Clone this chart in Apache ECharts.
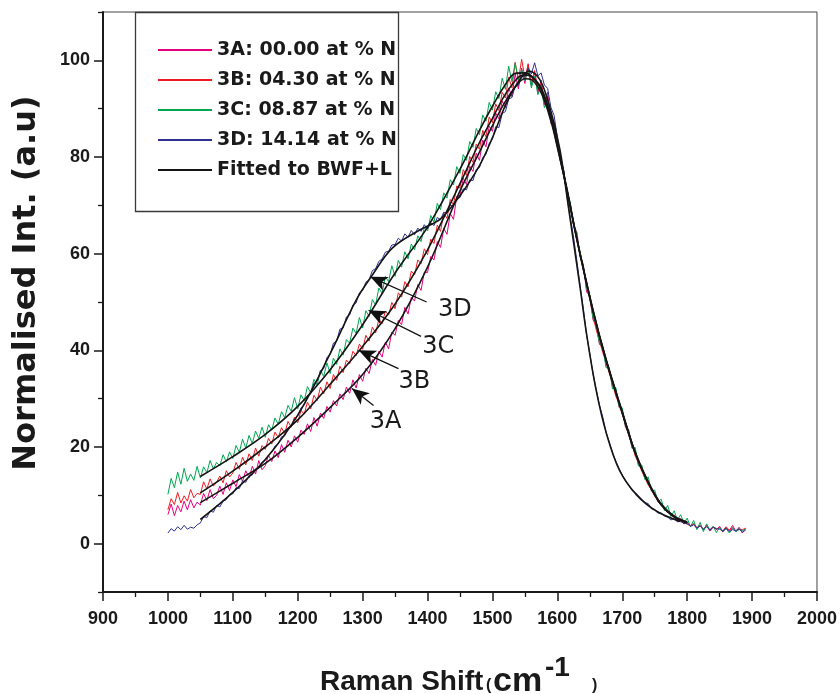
<!DOCTYPE html>
<html><head><meta charset="utf-8">
<script src="https://cdn.jsdelivr.net/npm/echarts@6/dist/echarts.min.js"></script>
<style>html,body{margin:0;padding:0;background:#fff}#chart{width:840px;height:694px}</style>
</head><body><div id="chart"></div>
<script>
// Raman shift sampling of the measured spectra (cm-1)
const shiftStart = 1000, shiftStep = 5;

const seriesNames = ['3A: 00.00 at % N', '3B: 04.30 at % N', '3C: 08.87 at % N', '3D: 14.14 at % N'];
const fitName = 'Fitted to BWF+L';

const intensity3A = [
  6.0, 8.2, 5.8, 7.9, 6.6, 8.8, 7.0, 9.1, 7.4, 8.6,
  8.0, 10.4, 8.9, 11.2, 9.3, 10.0, 11.9, 10.2, 12.6, 11.0,
  13.2, 11.8, 14.3, 12.9, 15.1, 13.6, 16.0, 14.4, 17.2, 15.3,
  16.1, 18.3, 17.0, 19.2, 17.8, 20.5, 18.9, 21.4, 20.0, 22.3,
  21.0, 23.5, 22.6, 24.8, 23.2, 26.1, 24.3, 27.0, 25.9, 28.4,
  27.2, 29.6, 28.5, 31.0, 29.8, 32.4, 31.1, 33.9, 32.2, 35.0,
  33.6, 36.3, 35.2, 38.1, 36.9, 39.8, 38.6, 41.7, 40.3, 43.8,
  43.1, 46.2, 45.3, 48.9, 47.5, 51.0, 50.2, 53.6, 52.4, 56.2,
  56.1, 59.4, 58.7, 62.5, 61.3, 65.2, 64.0, 68.3, 67.1, 71.9,
  72.0, 75.6, 74.3, 78.1, 77.0, 80.8, 79.3, 83.5, 82.1, 86.4,
  85.3, 89.1, 87.9, 91.6, 90.2, 94.3, 92.5, 97.2, 94.1, 98.4,
  95.2, 99.3, 94.8, 97.6, 93.2, 95.9, 90.8, 93.4, 86.9, 87.3,
  83.4, 79.0, 77.2, 72.1, 70.3, 65.8, 64.5, 59.6, 57.8, 52.1,
  51.2, 46.3, 45.0, 41.2, 40.6, 36.9, 36.1, 32.4, 32.0, 28.2,
  27.6, 24.1, 23.0, 19.8, 19.3, 16.2, 15.6, 13.4, 13.0, 10.9,
  10.4, 8.6, 8.4, 7.1, 6.9, 5.8, 5.9, 4.6, 5.2, 4.1,
  4.5, 3.6, 4.0, 3.1, 3.7, 2.8, 3.9, 2.6, 3.4, 2.9,
  3.6, 2.4, 3.3, 2.7, 3.8, 2.5, 3.4, 2.2, 3.1
];
const intensity3B = [
  7.0, 9.3, 8.1, 10.6, 8.4, 9.9, 8.8, 11.2, 9.5, 10.4,
  10.2, 12.8, 11.3, 13.4, 11.9, 12.7, 14.0, 12.6, 15.1, 13.8,
  14.6, 16.8, 15.4, 17.9, 16.3, 18.6, 17.2, 19.8, 18.1, 20.3,
  19.5, 21.8, 20.6, 23.1, 21.9, 24.0, 22.8, 25.3, 24.1, 26.2,
  25.0, 27.6, 26.8, 29.3, 27.9, 30.7, 29.6, 32.4, 31.0, 33.5,
  32.1, 35.0, 33.8, 36.7, 35.4, 38.0, 37.2, 39.8, 38.9, 41.3,
  40.2, 43.1, 41.9, 44.8, 43.6, 46.4, 45.5, 48.1, 47.3, 49.9,
  48.6, 51.9, 51.0, 54.2, 53.1, 56.4, 55.6, 58.7, 57.9, 61.0,
  59.8, 63.0, 62.1, 65.9, 64.6, 68.4, 67.3, 71.2, 70.1, 74.0,
  73.6, 77.4, 76.2, 80.1, 78.9, 82.7, 81.6, 85.5, 84.2, 88.3,
  87.1, 91.0, 89.6, 93.4, 92.2, 96.5, 94.3, 99.6, 95.8, 100.2,
  96.3, 99.1, 95.0, 97.9, 93.8, 95.2, 91.4, 92.6, 87.6, 86.8,
  82.9, 80.1, 76.5, 73.2, 69.4, 66.5, 63.1, 60.2, 56.8, 53.4,
  50.6, 47.1, 44.2, 42.0, 39.5, 37.6, 35.2, 33.1, 30.5, 29.0,
  26.8, 24.6, 22.4, 20.5, 18.1, 16.7, 15.0, 13.6, 12.1, 11.2,
  9.8, 8.9, 8.0, 7.4, 6.5, 6.1, 5.4, 5.0, 4.5, 4.4,
  4.0, 3.7, 4.2, 3.3, 3.8, 3.0, 3.6, 2.9, 3.5, 3.1,
  3.2, 2.7, 3.5, 2.8, 3.3, 2.6, 3.0, 2.9, 3.2
];
const intensity3C = [
  10.2, 13.5, 11.6, 14.8, 12.3, 15.6, 12.9, 14.4, 13.1, 16.0,
  13.6, 15.9, 14.7, 17.2, 15.5, 16.8, 16.1, 18.4, 16.9, 19.0,
  17.6, 20.3, 18.9, 21.6, 19.8, 22.4, 20.7, 23.3, 21.8, 24.1,
  22.0, 24.6, 23.5, 26.0, 24.7, 27.3, 26.1, 28.6, 27.4, 30.2,
  27.9, 30.8, 29.6, 32.5, 31.2, 34.0, 32.8, 35.9, 34.6, 37.4,
  35.2, 38.4, 37.1, 40.3, 39.0, 42.2, 41.5, 44.6, 43.5, 46.8,
  44.6, 48.2, 47.0, 50.5, 49.4, 52.9, 51.8, 55.3, 54.2, 57.5,
  55.3, 58.6, 57.2, 60.4, 58.9, 62.0, 60.8, 63.7, 62.5, 65.4,
  64.7, 67.9, 66.5, 70.4, 69.1, 72.6, 71.5, 75.3, 74.2, 78.0,
  76.6, 80.5, 79.3, 83.2, 82.0, 85.9, 84.6, 88.7, 87.4, 91.3,
  89.7, 93.5, 92.1, 96.3, 94.0, 98.8, 95.6, 99.4, 95.9, 98.1,
  95.8, 98.2, 94.3, 96.7, 92.9, 94.6, 90.2, 92.0, 87.1, 86.2,
  83.0, 79.8, 77.1, 72.5, 70.6, 65.9, 64.2, 59.3, 57.5, 52.8,
  51.4, 46.6, 45.5, 41.3, 40.8, 36.4, 36.5, 32.0, 32.3, 28.4,
  28.1, 24.2, 23.6, 19.7, 19.9, 16.1, 16.3, 13.2, 13.8, 10.9,
  11.1, 8.6, 9.2, 6.8, 7.9, 5.6, 6.8, 4.9, 6.0, 4.2,
  5.3, 3.5, 4.8, 2.9, 4.4, 2.5, 4.1, 2.8, 3.6, 2.3,
  3.4, 2.6, 3.1, 2.2, 3.3, 2.5, 2.9, 2.7, 3.0
];
const intensity3D = [
  2.2, 3.1, 2.6, 3.5, 2.9, 3.8, 3.0, 3.4, 3.2, 3.9,
  4.3, 5.6, 5.4, 6.8, 6.5, 7.9, 7.6, 8.8, 9.1, 10.2,
  10.3, 11.6, 11.4, 13.0, 12.7, 14.1, 14.2, 15.5, 15.6, 16.9,
  17.2, 18.3, 18.9, 20.2, 20.6, 22.1, 22.3, 23.9, 24.2, 25.8,
  26.4, 28.1, 28.7, 30.6, 31.0, 33.2, 33.6, 35.8, 36.2, 38.5,
  39.2, 41.5, 41.9, 44.4, 44.6, 46.9, 47.3, 49.4, 49.8, 51.9,
  52.4, 54.1, 54.6, 56.5, 56.9, 58.4, 58.9, 60.3, 60.5, 61.8,
  61.9, 63.2, 62.6, 64.1, 63.4, 64.8, 63.9, 65.3, 64.6, 66.0,
  65.1, 66.4, 65.8, 67.5, 67.0, 68.6, 68.4, 70.0, 69.9, 71.5,
  71.6, 73.4, 73.2, 75.3, 75.1, 77.4, 77.8, 79.9, 80.5, 82.8,
  83.7, 86.3, 86.1, 89.0, 89.4, 92.0, 92.3, 94.6, 94.8, 96.9,
  96.6, 98.4, 97.2, 99.5, 96.8, 97.4, 94.9, 94.2, 90.3, 88.6,
  84.0, 80.2, 76.9, 71.8, 67.5, 63.4, 58.6, 53.5, 48.7, 43.2,
  39.3, 35.1, 31.8, 28.6, 26.2, 23.1, 21.0, 18.9, 17.1, 15.6,
  14.2, 13.0, 12.1, 11.0, 10.6, 9.9, 9.2, 8.5, 8.3, 7.2,
  7.1, 6.3, 6.4, 5.7, 5.5, 4.9, 5.2, 4.5, 4.7, 4.1,
  4.3, 3.6, 3.9, 3.3, 3.7, 3.0, 3.5, 2.8, 3.4, 3.1,
  3.0, 2.6, 3.2, 2.5, 2.9, 2.7, 3.1, 2.4, 2.8
];

// BWF+L fitted curves: [Raman shift, intensity]
const fit3A = [[1050,8.5],[1100,12.5],[1150,16.6],[1200,22],[1250,28.2],[1300,35],[1350,44.5],[1400,57.2],[1450,73],[1480,81],[1500,86.5],[1520,91.5],[1540,95.3],[1550,96.2],[1560,96],[1575,93.3],[1590,87.5],[1600,82],[1615,73],[1630,63],[1655,48],[1675,38],[1700,27],[1720,18.7],[1740,12.6],[1760,8],[1780,5.5],[1800,4.3]];
const fit3B = [[1050,10.5],[1100,15],[1150,20],[1200,25.6],[1250,33],[1300,40.8],[1350,49.6],[1400,60.8],[1450,74.5],[1480,83],[1500,88],[1520,93],[1540,96.5],[1550,97],[1560,96.6],[1575,94],[1590,88],[1600,82.3],[1615,73],[1630,63],[1655,48.2],[1675,38],[1700,27.2],[1720,18.8],[1740,12.7],[1760,8.1],[1780,5.6],[1800,4.4]];
const fit3C = [[1050,13.9],[1100,18],[1150,22.6],[1200,28.4],[1250,36],[1300,45.3],[1350,56],[1400,65.5],[1450,77.5],[1480,85.5],[1500,90.5],[1520,95],[1535,97.3],[1550,97.4],[1560,96.8],[1575,94.3],[1590,88.6],[1600,82.6],[1615,73.3],[1630,63.2],[1655,48.3],[1675,38.2],[1700,27.3],[1720,18.9],[1740,12.8],[1760,8.2],[1780,5.7],[1800,4.5]];
const fit3D = [[1050,5],[1100,10.6],[1150,17.4],[1200,26.6],[1250,39.3],[1290,50.4],[1313,55.2],[1346,61.2],[1388,64.9],[1420,67.2],[1450,72],[1480,78.2],[1500,84],[1521,91],[1542,96],[1557,97.8],[1573,96],[1588,90.5],[1604,81.5],[1617,69.7],[1635,53],[1645,43.4],[1660,31.6],[1676,22.6],[1696,15.1],[1722,10.1],[1753,6.7],[1789,4.6]];

// y-axis tick values
const yLabelValues = [0, 20, 40, 60, 80, 100];
const yMinorValues = [-10, 10, 30, 50, 70, 90, 110];

// curve annotations: label, label position, arrow tail, arrow tip (data coords)
const annotLabels = ['3D', '3C', '3B', '3A'];
const annotLabelAt = [[1442, 48.3], [1416.6, 40.8], [1379.8, 33.6], [1335.3, 25.2]];
const annotTail = [[1398.6, 50.0], [1390, 42.9], [1355.2, 36.2], [1316.8, 28.6]];
const annotTip = [[1311.8, 55.2], [1309.2, 48.3], [1293.9, 40.0], [1283.6, 32.1]];

const colors = ['#e6007e', '#ed1c24', '#00a651', '#2e3192'];
const fitColor = '#151515';

const tickFont = {fontFamily: '"Liberation Sans", Arial, sans-serif', fontWeight: 'bold', fontSize: 18, color: '#1a1a1a'};

function spectrum(name, values, color) {
  return {
    name, type: 'line', symbol: 'none', showSymbol: false,
    data: values.map((v, i) => [shiftStart + i * shiftStep, v]),
    lineStyle: {color, width: 1}, itemStyle: {color}, z: 2
  };
}
function fitted(values) {
  return {
    name: fitName, type: 'line', symbol: 'none', showSymbol: false, smooth: 0.35,
    data: values, lineStyle: {color: fitColor, width: 1.6}, itemStyle: {color: fitColor}, z: 3
  };
}

const chart = echarts.init(document.getElementById('chart'), null, {renderer: 'canvas'});
chart.setOption({
  animation: false,
  backgroundColor: '#fff',
  grid: {left: 103, right: 23, top: 12, bottom: 102, show: true, borderColor: '#444', borderWidth: 1},
  legend: {
    orient: 'vertical', left: 153, top: 35, itemWidth: 54, itemHeight: 2, itemGap: 10,
    icon: 'rect', selectedMode: false,
    data: seriesNames.concat([fitName]),
    textStyle: {fontFamily: '"DejaVu Sans", sans-serif', fontWeight: 'bold', fontSize: 19, color: '#1a1a1a', lineHeight: 20, height: 20}
  },
  xAxis: {
    type: 'value', min: 900, max: 2000, interval: 100,
    axisLine: {onZero: false, lineStyle: {color: '#1a1a1a', width: 2}},
    axisTick: {length: 9, lineStyle: {color: '#1a1a1a', width: 1.5}},
    minorTick: {show: true, splitNumber: 2, length: 5, lineStyle: {color: '#1a1a1a', width: 1.3}},
    axisLabel: Object.assign({margin: 18, formatter: v => String(v)}, tickFont),
    splitLine: {show: false}, minorSplitLine: {show: false}
  },
  yAxis: [{
    type: 'value', min: -10, max: 110, position: 'left',
    axisLine: {onZero: false, lineStyle: {color: '#1a1a1a', width: 2}},
    axisTick: {customValues: yLabelValues, length: 9, lineStyle: {color: '#1a1a1a', width: 1.5}},
    axisLabel: Object.assign({customValues: yLabelValues, margin: 13}, tickFont),
    splitLine: {show: false}
  }, {
    type: 'value', min: -10, max: 110, position: 'left',
    axisLine: {show: false},
    axisTick: {customValues: yMinorValues, length: 5, lineStyle: {color: '#1a1a1a', width: 1.3}},
    axisLabel: {show: false},
    splitLine: {show: false}
  }],
  series: [
    spectrum(seriesNames[0], intensity3A, colors[0]),
    spectrum(seriesNames[1], intensity3B, colors[1]),
    spectrum(seriesNames[2], intensity3C, colors[2]),
    spectrum(seriesNames[3], intensity3D, colors[3]),
    fitted(fit3A), fitted(fit3B), fitted(fit3C), fitted(fit3D),
    {
      name: 'annotations', type: 'line', data: [], z: 4,
      markLine: {
        silent: true, symbol: ['none', 'arrow'], symbolSize: [11, 17], animation: false,
        label: {show: false},
        lineStyle: {color: '#111', width: 1.3, type: 'solid'},
        emphasis: {disabled: true},
        data: annotTail.map((t, i) => [{coord: t}, {coord: annotTip[i]}])
      },
      markPoint: {
        silent: true, symbol: 'rect', symbolSize: 1, animation: false,
        itemStyle: {color: 'rgba(0,0,0,0)'},
        label: {show: true, position: 'inside', formatter: p => p.name, color: '#1a1a1a',
                fontFamily: '"DejaVu Sans", sans-serif', fontSize: 24},
        data: annotLabels.map((n, i) => ({name: n, coord: annotLabelAt[i]}))
      }
    }
  ],
  graphic: [
    {type: 'rect', shape: {x: 135.5, y: 12.5, width: 263, height: 199}, style: {fill: 'none', stroke: '#3a3a3a', lineWidth: 1.3}, z: 10},
    {type: 'text', x: 27, y: 283, rotation: Math.PI / 2, style: {text: 'Normalised Int. (a.u)', font: 'bold 32px "DejaVu Sans", sans-serif', fill: '#1a1a1a', align: 'center', verticalAlign: 'middle'}},
    {type: 'text', x: 320, y: 682, style: {text: 'Raman Shift', font: 'bold 28px "Liberation Sans", Arial, sans-serif', fill: '#1a1a1a', align: 'left', verticalAlign: 'middle'}},
    {type: 'text', x: 486, y: 686, style: {text: '(', font: 'bold 16px "Liberation Sans", Arial, sans-serif', fill: '#1a1a1a', align: 'left', verticalAlign: 'middle'}},
    {type: 'text', x: 493, y: 682, style: {text: 'cm', font: 'bold 34px "Liberation Sans", Arial, sans-serif', fill: '#1a1a1a', align: 'left', verticalAlign: 'middle'}},
    {type: 'text', x: 545, y: 668, style: {text: '-1', font: 'bold 28px "Liberation Sans", Arial, sans-serif', fill: '#1a1a1a', align: 'left', verticalAlign: 'middle'}},
    {type: 'text', x: 592, y: 686, style: {text: ')', font: 'bold 16px "Liberation Sans", Arial, sans-serif', fill: '#1a1a1a', align: 'left', verticalAlign: 'middle'}}
  ]
});
</script></body></html>
